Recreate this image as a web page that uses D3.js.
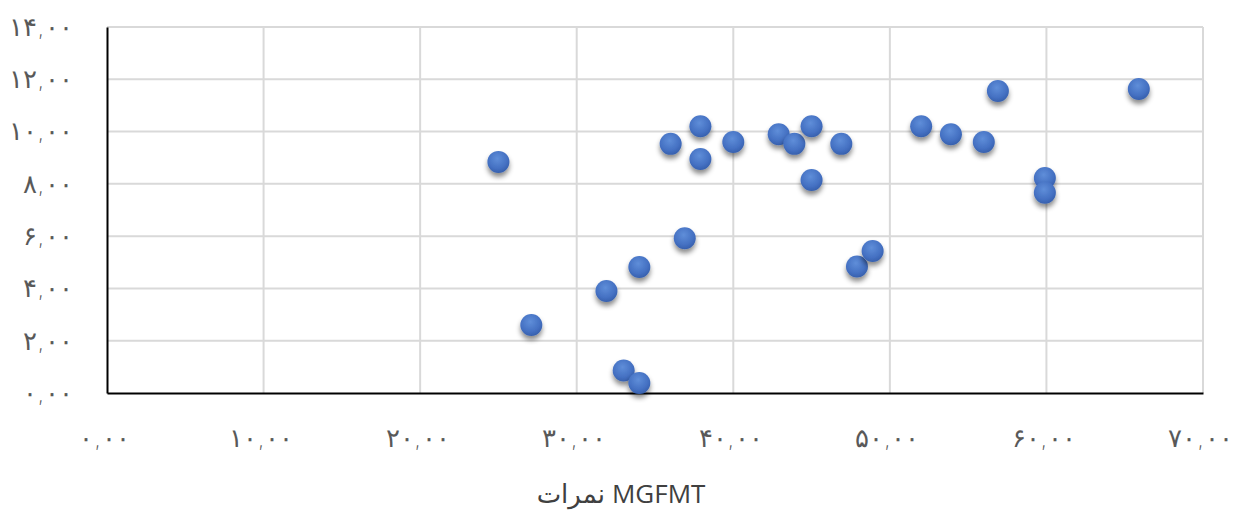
<!DOCTYPE html>
<html><head><meta charset="utf-8">
<script src="https://cdn.jsdelivr.net/npm/d3@7"></script>
<style>
html,body{margin:0;padding:0;background:#fff;}
svg{display:block;}
</style></head>
<body>
<svg id="chart" width="1241" height="515"></svg>
<script>
const xValues = [25, 27.1, 31.9, 33, 34, 34, 36, 36.9, 37.9, 37.9, 40, 42.9, 43.9, 45, 45, 46.9, 47.9, 48.9, 52, 53.9, 56, 56.9, 59.9, 59.9, 65.9];
const yValues = [8.84, 2.6, 3.9, 0.86, 0.38, 4.82, 9.53, 5.92, 10.2, 8.95, 9.6, 9.9, 9.53, 10.2, 8.15, 9.53, 4.84, 5.43, 10.2, 9.9, 9.6, 11.55, 8.22, 7.66, 11.63];
const xTicks = [0, 10, 20, 30, 40, 50, 60, 70];
const yTicks = [0, 2, 4, 6, 8, 10, 12, 14];
const xTitleFa = "نمرات";
const xTitleEn = "MGFMT";

const fa = "۰۱۲۳۴۵۶۷۸۹";
const fmt = v => {
  const s = v.toFixed(2).replace(".", ",");
  return s.replace(/[0-9]/g, d => fa[+d]);
};

const svg = d3.select("#chart");
const L = 107, R = 1203, T = 27, B = 393;
const x = d3.scaleLinear().domain([0, 70]).range([L, R]);
const y = d3.scaleLinear().domain([0, 14]).range([B, T]);

const defs = svg.append("defs");
const grad = defs.append("radialGradient").attr("id", "dotGrad")
  .attr("cx", "45%").attr("cy", "35%").attr("r", "65%");
grad.append("stop").attr("offset", "0%").attr("stop-color", "#5f8ed9");
grad.append("stop").attr("offset", "70%").attr("stop-color", "#4470c2");
grad.append("stop").attr("offset", "100%").attr("stop-color", "#3760ad");
const filt = defs.append("filter").attr("id", "shadow")
  .attr("x", "-50%").attr("y", "-50%").attr("width", "200%").attr("height", "220%");
filt.append("feDropShadow").attr("dx", 0).attr("dy", 4).attr("stdDeviation", 2.5)
  .attr("flood-color", "#000").attr("flood-opacity", 0.45);

// gridlines
const grid = svg.append("g");
grid.selectAll(".hg").data(yTicks.filter(t => t > 0)).join("line")
  .attr("x1", L).attr("x2", R).attr("y1", d => y(d)).attr("y2", d => y(d))
  .attr("stroke", "#d9d9d9").attr("stroke-width", 2);
grid.selectAll(".vg").data(xTicks.filter(t => t > 0)).join("line")
  .attr("y1", T).attr("y2", B).attr("x1", d => x(d)).attr("x2", d => x(d))
  .attr("stroke", "#d9d9d9").attr("stroke-width", 2);

// axes
const xAxis = d3.axisBottom(x).tickValues(xTicks).tickFormat(fmt).tickSize(0).tickPadding(36);
const gx = svg.append("g").attr("transform", `translate(0,${B})`).call(xAxis);
gx.select(".domain").attr("stroke", "#000").attr("stroke-width", 2);
const yAxis = d3.axisLeft(y).tickValues(yTicks).tickFormat(fmt).tickSize(0).tickPadding(34);
const gy = svg.append("g").attr("transform", `translate(${L},0)`).call(yAxis);
gy.select(".domain").attr("stroke", "#000").attr("stroke-width", 2);
svg.selectAll(".tick text")
  .attr("font-family", "DejaVu Sans, sans-serif").attr("font-size", 26)
  .attr("font-weight", 300)
  .attr("fill", "#595959").attr("letter-spacing", "4px").attr("direction", "ltr");
gx.selectAll(".tick text").attr("dx", -3);

// points
const data = xValues.map((v, i) => ({x: v, y: yValues[i]}));
svg.append("g").selectAll("circle").data(data).join("circle")
  .attr("cx", d => x(d.x)).attr("cy", d => y(d.y)).attr("r", 11)
  .attr("fill", "url(#dotGrad)").attr("filter", "url(#shadow)");

// title: Persian word on the left, MGFMT on the right (as in the reference)
const title = svg.append("g").attr("font-family", "Open Sans, DejaVu Sans, sans-serif")
  .attr("font-size", 26).attr("fill", "#404040");
const tFa = title.append("text").attr("y", 503).attr("text-anchor", "middle").text(xTitleFa);
const tEn = title.append("text").attr("y", 503).attr("text-anchor", "middle").text(xTitleEn);
const wFa = tFa.node().getComputedTextLength();
const wEn = tEn.node().getComputedTextLength();
const gap = 7, total = wFa + gap + wEn, x0 = 621 - total / 2;
tFa.attr("x", x0 + wFa / 2);
tEn.attr("x", x0 + wFa + gap + wEn / 2);
</script>
</body></html>
